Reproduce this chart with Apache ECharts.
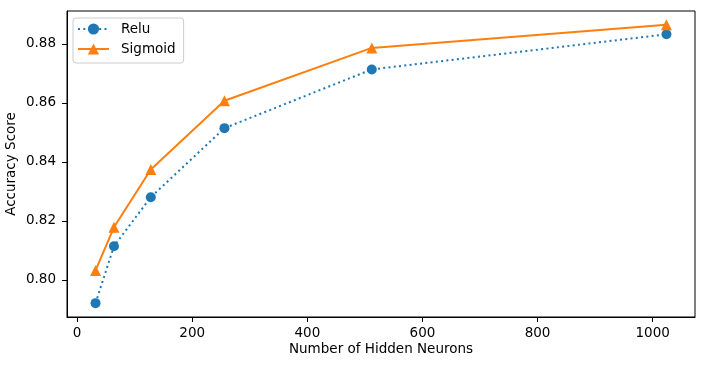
<!DOCTYPE html>
<html>
<head>
<meta charset="utf-8">
<script src="https://cdn.jsdelivr.net/npm/echarts@6/dist/echarts.min.js"></script>
<style>
  html, body { margin: 0; padding: 0; background: #fff; }
  #chart { width: 707px; height: 366px; }
</style>
</head>
<body>
<div id="chart"></div>
<script>
// values
var neurons = [32, 64, 128, 256, 512, 1024];
var relu = [0.7921, 0.8114, 0.8280, 0.8514, 0.8713, 0.8832];
var sigmoid = [0.8032, 0.8178, 0.8374, 0.8607, 0.8786, 0.8864];
var xTicks = [0, 200, 400, 600, 800, 1000];
var yTicks = [0.80, 0.82, 0.84, 0.86, 0.88];

function pairs(ys) {
    return neurons.map(function (x, i) { return [x, ys[i]]; });
}

var font = 'DejaVu Sans';
var myChart = echarts.init(document.getElementById('chart'), null, { renderer: 'canvas' });
myChart.setOption({
    animation: false,
    backgroundColor: '#fff',
    grid: {
        left: 67, right: 12, top: 11, bottom: 49,
        outerBoundsMode: 'none', containLabel: false,
        show: true, borderColor: '#000', borderWidth: 1, backgroundColor: 'transparent'
    },
    legend: {
        orient: 'vertical',
        left: 73, top: 18,
        itemWidth: 31, itemHeight: 14, itemGap: 6,
        padding: [4, 8, 7, 4],
        backgroundColor: '#fff',
        borderColor: '#ccc', borderWidth: 1, borderRadius: 3,
        formatter: function (name) { return '{t|' + name + '}'; },
        textStyle: {
            fontFamily: font, fontSize: 13.5, color: '#000',
            rich: { t: { fontFamily: font, fontSize: 13.5, color: '#000', padding: [0, 0, 0, 7] } }
        },
        data: ['Relu', 'Sigmoid']
    },
    xAxis: {
        type: 'value',
        min: -17.6, max: 1073.6,
        name: 'Number of Hidden Neurons',
        nameLocation: 'middle', nameGap: 25, nameMoveOverlap: false,
        nameTextStyle: { fontFamily: font, fontSize: 13.5, color: '#000' },
        axisLine: { show: true, onZero: false, lineStyle: { color: '#000', width: 1 } },
        axisTick: { show: true, length: 5, customValues: xTicks, lineStyle: { color: '#000', width: 1 } },
        axisLabel: {
            customValues: xTicks, margin: 9, fontFamily: font, fontSize: 13.5, color: '#000',
            formatter: function (v) { return String(v); }
        },
        splitLine: { show: false }
    },
    yAxis: {
        type: 'value',
        min: 0.7874, max: 0.8911,
        name: 'Accuracy Score',
        nameLocation: 'middle', nameGap: 49, nameMoveOverlap: false,
        nameTextStyle: { fontFamily: font, fontSize: 13.5, color: '#000' },
        axisLine: { show: true, onZero: false, lineStyle: { color: '#000', width: 1 } },
        axisTick: { show: true, length: 5, customValues: yTicks, lineStyle: { color: '#000', width: 1 } },
        axisLabel: {
            customValues: yTicks, margin: 11, fontFamily: font, fontSize: 13.5, color: '#000',
            formatter: function (v) { return v.toFixed(2); }
        },
        splitLine: { show: false }
    },
    series: [
        {
            name: 'Relu',
            type: 'line',
            data: pairs(relu),
            symbol: 'circle', symbolSize: 10,
            itemStyle: { color: '#1f77b4' },
            lineStyle: { color: '#1f77b4', width: 2, type: [2, 3.3] }
        },
        {
            name: 'Sigmoid',
            type: 'line',
            data: pairs(sigmoid),
            symbol: 'triangle', symbolSize: 11,
            itemStyle: { color: '#ff7f0e' },
            lineStyle: { color: '#ff7f0e', width: 2 }
        }
    ]
});
</script>
</body>
</html>
